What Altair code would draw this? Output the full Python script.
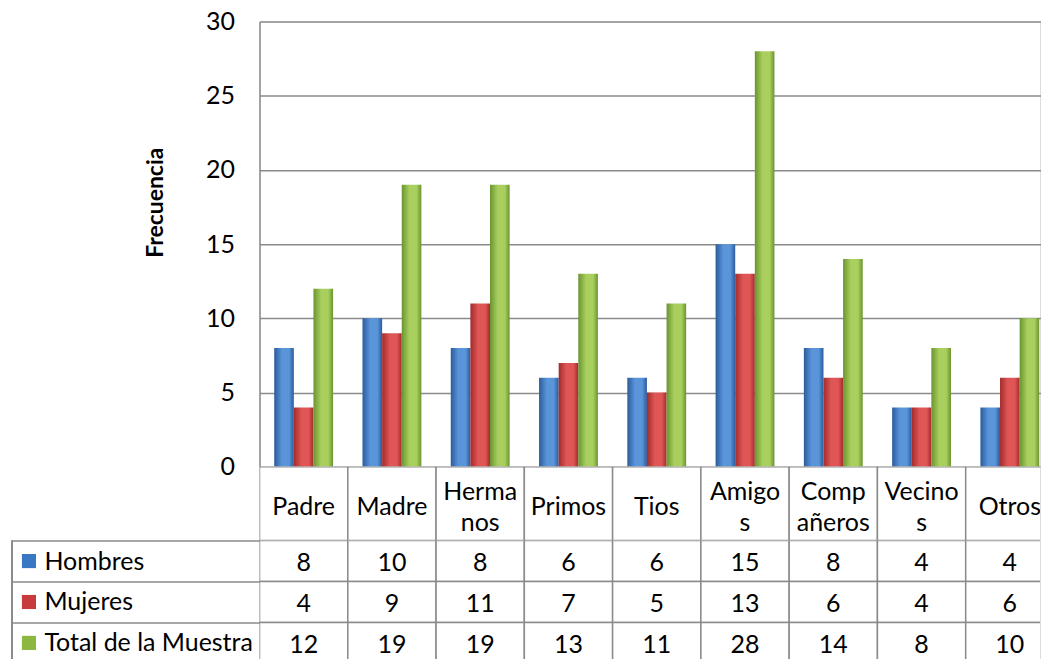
import altair as alt
import pandas as pd

categories = ["Padre", "Madre", "Hermanos", "Primos", "Tios", "Amigos", "Compañeros", "Vecinos", "Otros"]
header_lines = [["Padre"], ["Madre"], ["Herma", "nos"], ["Primos"], ["Tios"],
                ["Amigo", "s"], ["Comp", "añeros"], ["Vecino", "s"], ["Otros"]]
series = ["Hombres", "Mujeres", "Total de la Muestra"]
hombres = [8, 10, 8, 6, 6, 15, 8, 4, 4]
mujeres = [4, 9, 11, 7, 5, 13, 6, 4, 6]
total = [12, 19, 19, 13, 11, 28, 14, 8, 10]
y_ticks = [0, 5, 10, 15, 20, 25, 30]

base_colors = ["#3a77c2", "#c93a3a", "#8cb841"]
dark_colors = ["#2b5c9c", "#a32b2b", "#6a9430"]
light_colors = ["#5a95da", "#e05656", "#a9d05e"]

FONT = "Lato"
FS = 25
GRID = "#8a8a8a"
PLOT_W = 782      # visible plot width (the last column is cut by the page edge)
BAND_SPAN = 796   # span of the nine category columns

rows = []
for s, vals in zip(series, [hombres, mujeres, total]):
    for c, v in zip(categories, vals):
        rows.append({"categoria": c, "serie": s, "valor": v})
df = pd.DataFrame(rows)
df_series = pd.DataFrame({"serie": series})
df_head = pd.DataFrame({"categoria": categories, "lineas": header_lines,
                        "n": [len(l) for l in header_lines]})

x_scale = alt.Scale(domain=categories, range=[0, BAND_SPAN], paddingInner=0, paddingOuter=0)
x_cat = alt.X("categoria:N", sort=categories, scale=x_scale, axis=None)

# ---- bars ----
y_top = alt.Y(
    "valor:Q", scale=alt.Scale(domain=[0, 30], nice=False),
    axis=alt.Axis(title="Frecuencia", values=y_ticks, ticks=False, labelPadding=25,
                  labelFont=FONT, labelFontSize=FS, labelColor="#000000",
                  grid=True, gridColor=GRID, gridWidth=1.5,
                  domainColor=GRID, domainWidth=1.5,
                  titleFont=FONT, titleFontSize=23, titleFontWeight="bold",
                  titleColor="#000000", titleX=-104, titleY=181, titleBaseline="middle"),
)
x_off = alt.XOffset("serie:N", sort=series,
                    scale=alt.Scale(domain=series, paddingOuter=0.75, paddingInner=0))

layers = []
for s, d, l in zip(series, dark_colors, light_colors):
    grad = alt.LinearGradient(
        gradient="linear", x1=0, x2=1, y1=0, y2=0,
        stops=[alt.GradientStop(offset=0, color=d),
               alt.GradientStop(offset=0.4, color=l),
               alt.GradientStop(offset=0.75, color=l),
               alt.GradientStop(offset=1, color=d)])
    layers.append(
        alt.Chart(df).transform_filter(alt.datum.serie == s)
        .mark_bar(color=grad, clip=True)
        .encode(x=x_cat, xOffset=x_off, y=y_top)
    )
top = alt.layer(*layers).properties(width=PLOT_W, height=446)

# ---- header row (category names) ----
head_cells = alt.Chart(df_head).mark_rect(fill="white", stroke=GRID, strokeWidth=1.5, clip=True).encode(
    x=x_cat)
head_one = alt.Chart(df_head).transform_filter("datum.n == 1").mark_text(
    font=FONT, fontSize=FS, color="#000000", baseline="middle", dy=3, clip=True).encode(
    x=x_cat, text="lineas")
head_two = alt.Chart(df_head).transform_filter("datum.n > 1").mark_text(
    font=FONT, fontSize=FS, color="#000000", baseline="middle", lineHeight=31, dy=-12,
    clip=True).encode(x=x_cat, text="lineas")
header = alt.layer(head_cells, head_one, head_two).properties(width=PLOT_W, height=74)

# ---- data table ----
y_tab = alt.Y(
    "serie:N", sort=series, scale=alt.Scale(domain=series, paddingInner=0, paddingOuter=0),
    axis=alt.Axis(title=None, tickBand="extent", tickSize=248, tickColor=GRID, tickWidth=1.5,
                  domain=False, labelAlign="left", labelPadding=-32, labelBaseline="middle",
                  labelFont=FONT, labelFontSize=FS, labelColor="#000000", labelLimit=0),
)
cells = alt.Chart(df).mark_rect(fill="white", stroke=GRID, strokeWidth=1.5, clip=True).encode(
    x=x_cat, y=y_tab)
texts = alt.Chart(df).mark_text(font=FONT, fontSize=FS, color="#000000", dy=2, clip=True).encode(
    x=x_cat, y=y_tab, text="valor:Q")
squares = alt.Chart(df_series).mark_square(size=200, opacity=1, filled=True).encode(
    x=alt.value(-231), y=y_tab,
    color=alt.Color("serie:N", scale=alt.Scale(domain=series, range=base_colors), legend=None))
border = alt.Chart(df_series).mark_rule(color=GRID, strokeWidth=1.5).encode(x=alt.value(-248))
table = alt.layer(cells, texts, squares, border).properties(width=PLOT_W, height=123)

chart = (
    alt.vconcat(top, header, table, spacing=0, bounds="flush")
    .properties(padding={"left": 2, "top": 0, "right": 0, "bottom": 0})
    .configure_view(stroke=None)
    .configure(background="white")
)
chart.save("out.html", embed_options={"renderer": "svg", "actions": False})
